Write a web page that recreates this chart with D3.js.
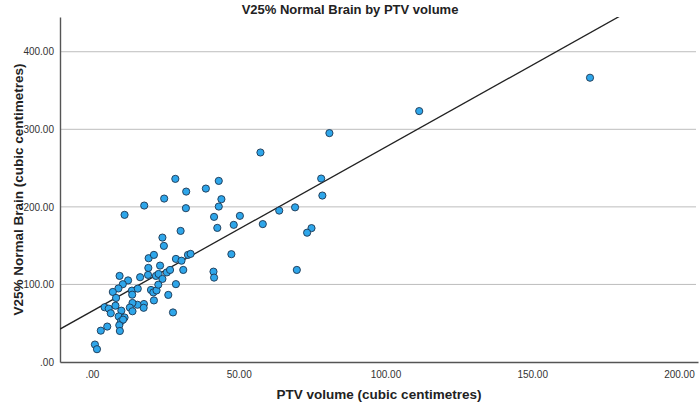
<!DOCTYPE html>
<html>
<head>
<meta charset="utf-8">
<script src="https://cdn.jsdelivr.net/npm/d3@7"></script>
<style>
  body { margin: 0; background: #fff; }
  svg { display: block; font-family: "Liberation Sans", Arial, sans-serif; }
</style>
</head>
<body>
<div id="chart"></div>
<script>
// PTV volume (x) vs V25% normal brain (y)
const ptvVolume = [
  28.4, 43.2, 32.1, 38.8, 24.6, 44.1, 17.8, 32.0, 43.2, 11.1,
  41.6, 50.4, 48.3, 42.7, 30.2, 24.0, 24.5, 19.3, 21.1, 23.2,
  28.6, 30.5, 32.7, 33.6, 47.5, 19.2, 19.1, 21.8, 22.7, 24.0,
  25.5, 26.6, 31.1, 41.4, 41.6, 9.4, 12.3, 16.4, 10.5, 9.0,
  7.1, 8.2, 13.6, 13.7, 15.6, 20.1, 20.9, 22.0, 22.6, 28.6,
  26.0, 21.1, 17.7, 17.6, 15.5, 13.8, 12.9, 13.8, 27.6, 4.3,
  5.7, 8.0, 6.4, 10.0, 9.1, 11.1, 9.9, 10.6, 9.3, 5.2,
  3.0, 9.5, 1.0, 1.7, 80.9, 57.4, 78.1, 78.5, 63.8, 69.2,
  58.2, 74.8, 73.3, 69.8, 111.5, 169.7
];
const v25Brain = [
  236.1, 233.5, 219.7, 223.6, 210.7, 209.9, 201.7, 198.3, 200.4, 189.7,
  187.1, 188.4, 176.8, 172.9, 169.0, 160.4, 149.7, 133.8, 138.1, 124.3,
  132.9, 130.6, 138.1, 139.4, 139.0, 121.3, 112.3, 111.0, 113.5, 107.1,
  115.5, 118.7, 118.7, 116.5, 108.8, 111.0, 105.2, 109.3, 100.3, 94.8,
  90.3, 82.6, 92.0, 86.8, 94.6, 92.9, 89.7, 92.3, 99.7, 100.4,
  86.5, 79.4, 74.8, 69.9, 73.8, 76.1, 70.2, 65.4, 63.9, 70.6,
  68.8, 72.6, 62.8, 66.2, 58.7, 57.4, 52.6, 54.6, 47.4, 45.7,
  40.4, 40.0, 22.5, 16.5, 295.1, 270.1, 236.5, 214.6, 195.2, 199.4,
  177.8, 172.6, 166.7, 118.7, 323.5, 366.5
];

// fit line (linear), as drawn
const fitIntercept = 65.5;
const fitSlope = 2.115;

const xTicks = [0, 50, 100, 150, 200];
const yTicks = [0, 100, 200, 300, 400];

const titleText = "V25% Normal Brain by PTV volume";
const xTitle = "PTV volume (cubic centimetres)";
const yTitle = "V25% Normal Brain (cubic centimetres)";

const width = 700;
const height = 407;
const margin = { top: 17, right: 2, bottom: 45, left: 60 };
const plotW = width - margin.left - margin.right;
const plotH = height - margin.top - margin.bottom;

const points = ptvVolume.map((x, i) => ({ x: x, y: v25Brain[i] }));

const svg = d3.select("#chart").append("svg")
  .attr("width", width)
  .attr("height", height);

const xScale = d3.scaleLinear().domain([-10.9, 206.5]).range([0, plotW]);
const yScale = d3.scaleLinear().domain([0, 444.8]).range([plotH, 0]);

// ".00" style labels like SPSS
const fmt = v => d3.format(".2f")(v).replace(/^0\./, ".");

const g = svg.append("g").attr("transform", `translate(${margin.left},${margin.top})`);

// horizontal gridlines
g.append("g").selectAll("line")
  .data(yTicks.filter(t => t > 0))
  .enter().append("line")
  .attr("x1", 0).attr("x2", plotW - 2)
  .attr("y1", d => yScale(d)).attr("y2", d => yScale(d))
  .attr("stroke", "#bdbdbd")
  .attr("stroke-width", 1);

// axes
const xAxis = g.append("g")
  .attr("transform", `translate(0,${plotH})`)
  .call(d3.axisBottom(xScale).tickValues(xTicks).tickFormat(fmt).tickSize(0).tickPadding(9));
const yAxis = g.append("g")
  .call(d3.axisLeft(yScale).tickValues(yTicks).tickFormat(fmt).tickSize(0).tickPadding(6));

[xAxis, yAxis].forEach(ax => {
  ax.select(".domain").attr("stroke", "#555").attr("stroke-width", 1.4);
  ax.selectAll("text").attr("fill", "#333").style("font-size", "10px");
});

// clip so the fit line stops at the frame
svg.append("clipPath").attr("id", "plotClip")
  .append("rect").attr("width", plotW).attr("height", plotH);

const xd = xScale.domain();
g.append("line")
  .attr("clip-path", "url(#plotClip)")
  .attr("x1", xScale(xd[0])).attr("y1", yScale(fitIntercept + fitSlope * xd[0]))
  .attr("x2", xScale(xd[1])).attr("y2", yScale(fitIntercept + fitSlope * xd[1]))
  .attr("stroke", "#222")
  .attr("stroke-width", 1.3);

// points
g.append("g").selectAll("circle")
  .data(points)
  .enter().append("circle")
  .attr("cx", d => xScale(d.x))
  .attr("cy", d => yScale(d.y))
  .attr("r", 3.6)
  .attr("fill", "#2ea6ea")
  .attr("stroke", "#1d3550")
  .attr("stroke-width", 0.9);

// titles
svg.append("text")
  .attr("x", width / 2).attr("y", 14)
  .attr("text-anchor", "middle")
  .style("font-size", "13px").style("font-weight", "bold")
  .attr("fill", "#222")
  .text(titleText);

svg.append("text")
  .attr("x", margin.left + plotW / 2).attr("y", 399)
  .attr("text-anchor", "middle")
  .style("font-size", "13.5px").style("font-weight", "bold")
  .attr("fill", "#222")
  .text(xTitle);

svg.append("text")
  .attr("transform", `translate(23,${margin.top + plotH / 2}) rotate(-90)`)
  .attr("text-anchor", "middle")
  .style("font-size", "13.5px").style("font-weight", "bold")
  .attr("fill", "#222")
  .text(yTitle);
</script>
</body>
</html>
